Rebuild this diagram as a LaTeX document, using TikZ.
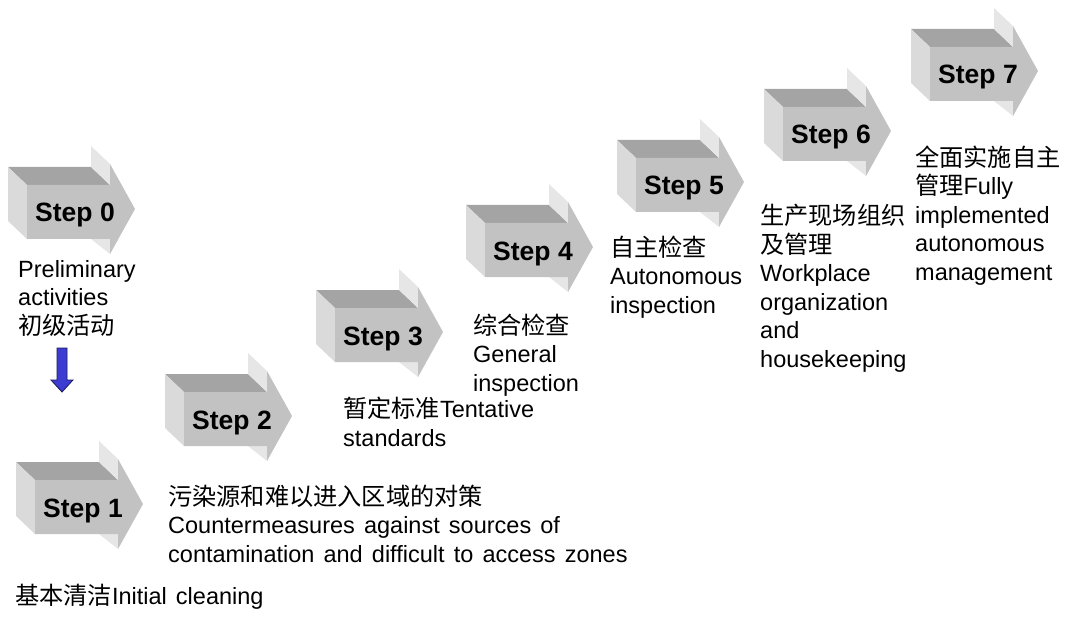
\documentclass[tikz,border=0pt]{standalone}
\usepackage{fontspec}
\setmainfont{Liberation Sans}
\newfontfamily\descfont{Liberation Sans}[WordSpace=1.4]
\newfontfamily\cjk{Noto Sans CJK SC}[Scale=1.03]
\usetikzlibrary{positioning}
\definecolor{topgray}{HTML}{A4A4A4}
\definecolor{frontgray}{HTML}{C2C2C2}
\definecolor{sidegray}{HTML}{DADADA}
\definecolor{barbgray}{HTML}{E6E6E6}
\definecolor{downblue}{HTML}{3C3CD2}
\definecolor{downedge}{HTML}{1A1A5A}

\begin{document}
\begin{tikzpicture}[x=1pt,y=-1pt,
    desc/.style={anchor=base west,align=left,inner sep=0pt,font=\descfont\fontsize{23.5}{28.5}\selectfont},
    steplabel/.style={anchor=base,inner sep=0pt,font=\fontsize{26.5}{30}\selectfont\bfseries}]
			\useasboundingbox (0,0) rectangle (1080,623);
			% 3D step arrows
			\foreach \n/\x/\y in {0/27/185, 1/35/480, 2/184/392, 3/335/308, 4/485/223, 5/636/158, 6/783/107, 7/930/47}{
				\begin{scope}[shift={(\x,\y)}]
					\fill[topgray] (0,0) -- (83,0) -- (64,-18) -- (-19,-18) -- cycle;
					\fill[sidegray] (0,0) -- (0,54) -- (-19,36) -- (-19,-18) -- cycle;
					\fill[barbgray] (83,0) -- (83,-21) -- (64,-39) -- (64,-18) -- cycle;
					\fill[barbgray] (64,54) -- (83,54) -- (83,69) -- cycle;
					\fill[frontgray] (0,0) -- (83,0) -- (83,-21) -- (108,24) -- (83,69) -- (83,54) -- (0,54) -- cycle;
					\node[steplabel] (step\n) at (48,37) {Step \n};
				\end{scope}
			}
			% texts (anchored at the baseline of the last line)
			\node[desc] (desc0) at (18,334) {Preliminary\\activities\\{\cjk 初级活动}};
			\node[desc] (desc1) at (15,604) {{\cjk 基本清洁}Initial cleaning};
			\node[desc] (desc2) at (168,562) {{\cjk 污染源和难以进入区域的对策}\\Countermeasures against sources of\\contamination and difficult to access zones};
			\node[desc] (desc3) at (343,446) {{\cjk 暂定标准}Tentative\\standards};
			\node[desc] (desc4) at (473,391) {{\cjk 综合检查}\\General\\inspection};
			\node[desc] (desc5) at (610,313) {{\cjk 自主检查}\\Autonomous\\inspection};
			\node[desc] (desc6) at (760,367) {{\cjk 生产现场组织}\\{\cjk 及管理}\\Workplace\\organization\\and\\housekeeping};
			\node[desc] (desc7) at (915,280) {{\cjk 全面实施自主}\\{\cjk 管理}Fully\\implemented\\autonomous\\management};
			% blue arrow down to step 1
			\coordinate (dn) at (62,348);
			\draw[fill=downblue,draw=downedge,line width=0.8pt] (dn) ++(-5,0) -- ++(10,0) -- ++(0,32) -- ++(6,0) -- ++(-11,12) -- ++(-11,-12) -- ++(6,0) -- cycle;
		\end{tikzpicture}
\end{document}
